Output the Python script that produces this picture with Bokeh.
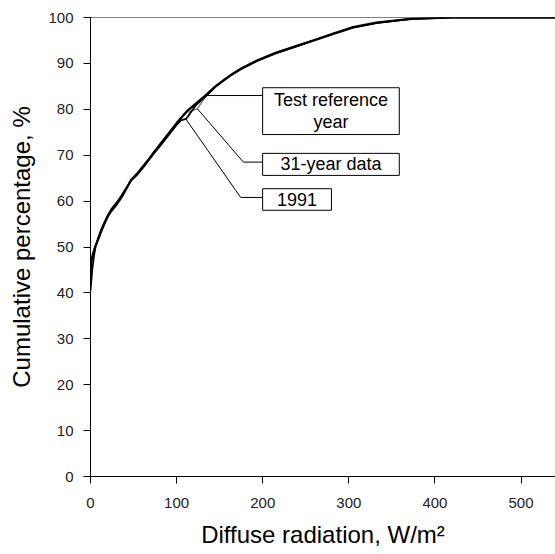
from bokeh.plotting import figure
from bokeh.models import BoxAnnotation, Label, Span, FixedTicker
from bokeh.embed import file_html
from bokeh.resources import INLINE

# ---- data ----
x_try = [0, 1, 3, 5, 8, 12, 16, 20, 24, 30, 36, 42, 47, 55, 62, 68, 73, 80, 90,
         100, 105, 112, 122, 134, 145, 155, 163, 175, 194, 215, 236, 260, 282,
         305, 332, 372, 420, 540]
y_try = [44.0, 47.0, 48.5, 49.8, 51.2, 53.2, 55.0, 56.6, 57.8, 59.2, 60.8, 62.8,
         64.6, 66.2, 67.8, 69.2, 70.5, 72.2, 74.6, 77.0, 78.1, 79.6, 81.2, 83.1,
         85.0, 86.4, 87.5, 88.9, 90.7, 92.3, 93.6, 95.1, 96.5, 97.9, 98.9, 99.7,
         100.0, 100.0]

x_31 = [0, 1, 3, 5, 8, 12, 16, 20, 24, 30, 36, 42, 47, 55, 62, 68, 73, 80, 90,
        100, 105, 112, 124, 134, 145, 155, 163, 175, 194, 215, 236, 260, 282,
        305, 332, 372, 420, 540]
y_31 = [45.5, 47.5, 48.8, 50.0, 51.5, 53.4, 55.2, 56.8, 58.0, 59.4, 61.0, 62.9,
        64.5, 66.0, 67.6, 69.0, 70.3, 72.0, 74.4, 76.8, 77.9, 79.3, 80.1, 82.8,
        84.8, 86.2, 87.3, 88.7, 90.5, 92.1, 93.5, 95.0, 96.4, 97.8, 98.8, 99.6,
        100.0, 100.0]

x_91 = [0, 2, 4, 6, 9, 12, 16, 20, 24, 30, 36, 42, 47, 55, 62, 68, 73, 80, 90,
        100, 105, 111, 122, 134, 145, 155, 163, 175, 194, 215, 236, 260, 282,
        305, 332, 372, 420, 540]
y_91 = [40.5, 45.0, 48.0, 50.2, 52.0, 53.6, 55.3, 56.9, 58.2, 59.6, 61.2, 63.0,
        64.4, 65.9, 67.5, 69.0, 70.2, 71.8, 74.2, 76.6, 77.6, 77.9, 80.8, 82.9,
        84.9, 86.3, 87.4, 88.8, 90.6, 92.2, 93.5, 95.0, 96.4, 97.8, 98.8, 99.7,
        100.0, 100.0]

x_ticks = [0, 100, 200, 300, 400, 500]
y_ticks = [0, 10, 20, 30, 40, 50, 60, 70, 80, 90, 100]

labels = ["Test reference\nyear", "31-year data", "1991"]

X_MAX = 540
Y_MAX = 100

FONT = "Liberation Sans"

p = figure(width=555, height=554, output_backend="svg", toolbar_location=None,
           x_range=(0, X_MAX), y_range=(0, Y_MAX),
           min_border_left=90, min_border_right=0, min_border_top=17,
           min_border_bottom=78)
p.outline_line_color = None
p.grid.visible = False
p.background_fill_color = "white"
p.border_fill_color = "white"

p.xaxis.ticker = FixedTicker(ticks=x_ticks)
p.yaxis.ticker = FixedTicker(ticks=y_ticks)
for ax in (p.xaxis, p.yaxis):
    ax.axis_line_color = "black"
    ax.axis_line_width = 1
    ax.major_tick_line_color = "black"
    ax.major_tick_in = 0
    ax.major_tick_out = 7
    ax.minor_tick_line_color = None
    ax.major_label_text_font = FONT
    ax.major_label_text_font_size = "15px"
    ax.major_label_text_color = "#222222"
    ax.axis_label_text_font = FONT
    ax.axis_label_text_font_size = "24px"
    ax.axis_label_text_font_style = "normal"
    ax.axis_label_text_color = "black"
p.yaxis.major_label_standoff = 10
p.xaxis.major_label_standoff = 14
p.yaxis.axis_label_standoff = 10
p.xaxis.axis_label_standoff = 10
p.xaxis.axis_label = "Diffuse radiation, W/m\u00b2"
p.yaxis.axis_label = "Cumulative percentage, %"

# top frame line
p.add_layout(Span(location=Y_MAX, dimension="width", line_color="black", line_width=1))

# curves
p.line(x_31, y_31, line_color="#777777", line_width=1.2)
p.line(x_91, y_91, line_color="black", line_width=1.8)
p.line(x_try, y_try, line_color="black", line_width=2.2)

# leaders
p.line([199.9, 134.0], [83.0, 83.0], line_color="black", line_width=1)
p.line([199.9, 177.5, 124.2], [68.5, 68.5, 80.1], line_color="black", line_width=1)
p.line([199.9, 174.4, 110.7], [60.8, 60.8, 77.9], line_color="black", line_width=1)

# boxes
boxes = [(199.9, 358.6, 84.7, 74.5), (199.9, 358.6, 70.4, 65.6), (199.9, 279.8, 62.7, 58.0)]
for (l, r, t, b) in boxes:
    p.add_layout(BoxAnnotation(left=l, right=r, top=t, bottom=b, fill_color="white",
                               fill_alpha=1, line_color="black", line_alpha=1,
                               line_width=1))

for (l, r, t, b), txt in zip(boxes, labels):
    p.add_layout(Label(x=(l + r) / 2, y=(t + b) / 2, text=txt, text_align="center",
                       text_baseline="middle", text_font=FONT, text_font_size="18px",
                       text_color="black", text_line_height=1.1))

open("out.html", "w").write(file_html(p, INLINE))
